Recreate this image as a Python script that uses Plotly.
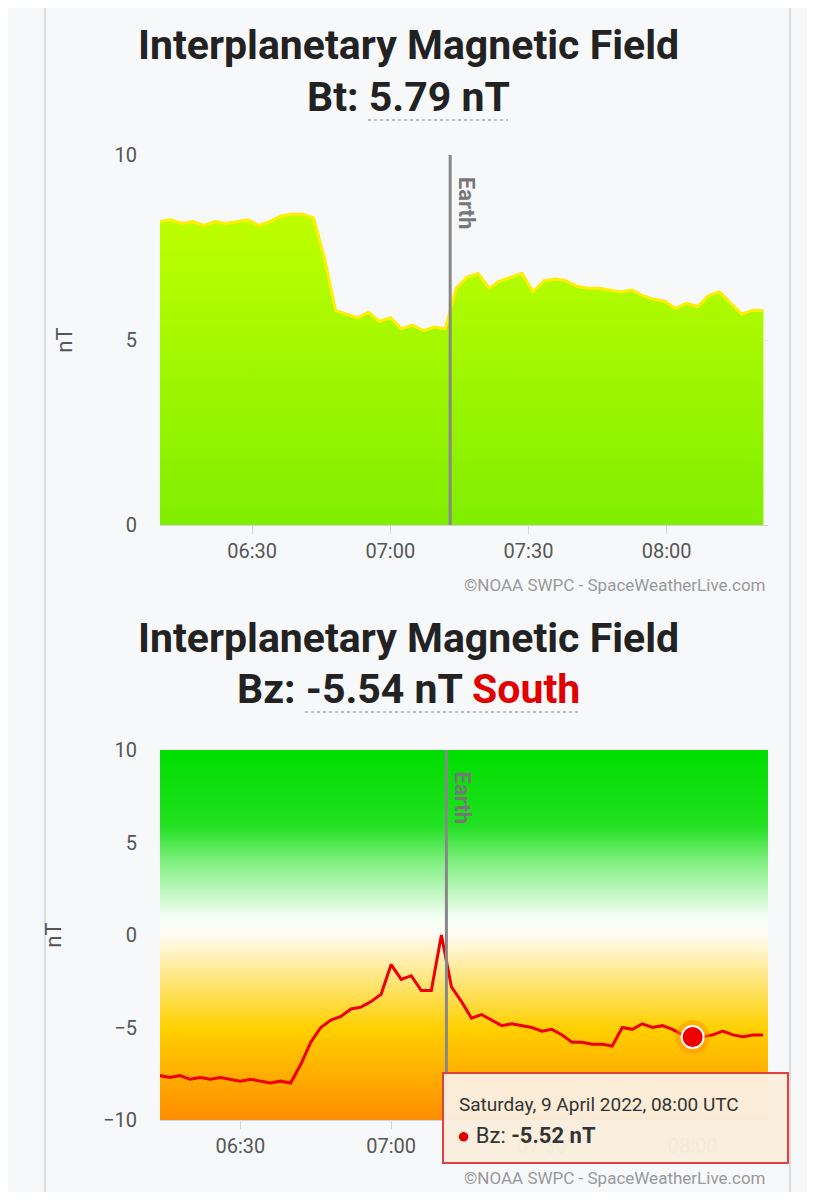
import plotly.graph_objects as go
import pandas as pd

# Bt (top), evenly spaced samples between 06:10 and 08:21
bt_vals = [8.2, 8.25, 8.15, 8.2, 8.1, 8.2, 8.15, 8.2, 8.25, 8.1, 8.2, 8.35, 8.4, 8.4, 8.3,
           7.2, 5.8, 5.7, 5.6, 5.75, 5.5, 5.6, 5.3, 5.4, 5.25, 5.35, 5.3,
           6.4, 6.7, 6.8, 6.4, 6.6, 6.7, 6.8, 6.3, 6.6, 6.65, 6.6, 6.45, 6.4, 6.4,
           6.35, 6.3, 6.35, 6.2, 6.1, 6.05, 5.85, 6.0, 5.9, 6.2, 6.3, 6.0, 5.7, 5.8, 5.8]
bt_x = pd.date_range("2022-04-09 06:10", "2022-04-09 08:21", periods=len(bt_vals))

# Bz (bottom) every 2 minutes from 06:14
bz_vals = [-7.6, -7.7, -7.6, -7.8, -7.7, -7.8, -7.7, -7.8, -7.9, -7.8, -7.9, -8.0, -7.9, -8.0,
           -7.0, -5.8, -5.0, -4.6, -4.4, -4.0, -3.9, -3.6, -3.2, -1.6, -2.4, -2.2, -3.0, -3.0,
           0.0, -2.8, -3.6, -4.5, -4.3, -4.6, -4.9, -4.8, -4.9, -5.0, -5.2, -5.1, -5.4, -5.8,
           -5.8, -5.9, -5.9, -6.0, -5.0, -5.1, -4.8, -5.0, -4.9, -5.1, -5.4, -5.52, -5.5, -5.4,
           -5.2, -5.4, -5.5, -5.4, -5.4]
bz_x = pd.date_range("2022-04-09 06:14", periods=len(bz_vals), freq="2min")

earth_top = "2022-04-09 07:13"
earth_bottom = "2022-04-09 07:11"
tick_vals = ["2022-04-09 06:30", "2022-04-09 07:00", "2022-04-09 07:30", "2022-04-09 08:00"]
tick_text = ["06:30", "07:00", "07:30", "08:00"]

font = "Roboto"
bg = "#f7f8fa"
W, H = 799, 1184  # leaves room for the page's 8px body margin


def px(x):
    return (x - 8) / W


def py(y):
    return 1 - (y - 8) / H


fig = go.Figure()

# background gradient of Bz panel
fig.add_trace(go.Heatmap(
    x=[pd.Timestamp("2022-04-09 06:00"), pd.Timestamp("2022-04-09 08:30")],
    y=[-10, -7.5, -5, -2.5, 0, 2.5, 5, 7.5, 10],
    z=[[-10, -10], [-7.5, -7.5], [-5, -5], [-2.5, -2.5], [0, 0], [2.5, 2.5], [5, 5], [7.5, 7.5], [10, 10]],
    zsmooth="best", showscale=False, hoverinfo="skip",
    colorscale=[[0, "#ff8c00"], [0.25, "#ffd000"], [0.45, "#fff2c0"], [0.5, "#fffcf2"],
                [0.55, "#f4fdf4"], [0.7, "#80f080"], [0.8, "#20e020"], [1, "#00dd00"]],
    zmin=-10, zmax=10, xaxis="x2", yaxis="y2"))

fig.add_trace(go.Scatter(
    x=bt_x, y=bt_vals, mode="lines", line=dict(color="#ffee00", width=3),
    fill="tozeroy",
    fillgradient=dict(type="vertical", colorscale=[[0, "#80ee00"], [1, "#bfff00"]]),
    xaxis="x", yaxis="y"))

fig.add_trace(go.Scatter(
    x=bz_x, y=bz_vals, mode="lines", line=dict(color="#ee0000", width=3),
    xaxis="x2", yaxis="y2"))

# highlighted point
fig.add_trace(go.Scatter(
    x=["2022-04-09 08:00"], y=[-5.52], mode="markers",
    marker=dict(size=34, color="rgba(255,140,0,0.45)"), xaxis="x2", yaxis="y2"))
fig.add_trace(go.Scatter(
    x=["2022-04-09 08:00"], y=[-5.52], mode="markers",
    marker=dict(size=22, color="#ee0000", line=dict(color="white", width=2)),
    xaxis="x2", yaxis="y2"))

axis_common = dict(type="date", tickvals=tick_vals, ticktext=tick_text, showgrid=False,
                   ticks="outside", ticklen=8, tickcolor="#ccd6eb", showline=True,
                   linecolor="#ccd6eb", automargin=False,
                   tickfont=dict(size=20, color="#555", family=font))
yaxis_common = dict(tickvals=[0, 5, 10], showgrid=True, gridcolor="#e6e6e6", zeroline=False,
                    automargin=False,
                    tickfont=dict(size=20, color="#555", family=font), ticklabelstandoff=22,
                    title=dict(text="nT", font=dict(size=22, color="#555", family=font), standoff=35))

fig.update_layout(
    width=W, height=H, margin=dict(l=0, r=0, t=0, b=0, autoexpand=False),
    paper_bgcolor=bg, plot_bgcolor=bg, showlegend=False,
    xaxis=dict(axis_common, domain=[px(160), px(768)],
               range=["2022-04-09 06:10", "2022-04-09 08:22"], anchor="y"),
    yaxis=dict(yaxis_common, domain=[py(525), py(155)], range=[0, 10], anchor="x"),
    xaxis2=dict(axis_common, domain=[px(160), px(768)],
                range=["2022-04-09 06:14", "2022-04-09 08:15"], anchor="y2"),
    yaxis2=dict(yaxis_common, domain=[py(1120), py(750)], range=[-10, 10],
                tickvals=[-10, -5, 0, 5, 10], gridcolor="rgba(255,255,255,0.8)", anchor="x2"),
)

# Earth lines
for xr, yr, et in (("x", "y", earth_top), ("x2", "y2", earth_bottom)):
    lo, hi = (0, 10) if yr == "y" else (-10, 10)
    fig.add_shape(type="line", xref=xr, yref=yr, x0=et, x1=et, y0=lo, y1=hi,
                  line=dict(color="#888", width=3))
    fig.add_annotation(xref=xr, yref=yr, x=et, y=hi, text="<b>Earth</b>", textangle=90,
                       showarrow=False, xanchor="left", yanchor="top", xshift=2, yshift=-20,
                       font=dict(size=22, color="#777", family=font))

# titles
title_font = dict(size=41, color="#222", family=font)
for yy, txt in ((45, "<b>Interplanetary Magnetic Field</b>"),
                (97, "<b>Bt: 5.79 nT</b>"),
                (638, "<b>Interplanetary Magnetic Field</b>"),
                (689, "<b>Bz: -5.54 nT <span style='color:#e00000'>South</span></b>")):
    fig.add_annotation(xref="paper", yref="paper", x=px(408), y=py(yy), showarrow=False,
                       yanchor="middle", text=txt, font=title_font)
# dotted underlines
for x0, x1, yy in ((368, 508, 120), (305, 578, 712)):
    fig.add_shape(type="line", xref="paper", yref="paper", x0=px(x0), x1=px(x1),
                  y0=py(yy), y1=py(yy), line=dict(color="#888", width=1, dash="dot"))

# credits
for yy in (585, 1178):
    fig.add_annotation(xref="paper", yref="paper", x=px(768), y=py(yy), showarrow=False,
                       xanchor="right", yanchor="middle", text="©NOAA SWPC - SpaceWeatherLive.com",
                       font=dict(size=17, color="#999", family=font))

# page borders
for xx in (45, 790):
    fig.add_shape(type="line", xref="paper", yref="paper", x0=px(xx), x1=px(xx), y0=0, y1=1,
                  line=dict(color="#dddddd", width=2))

# tooltip
fig.add_shape(type="rect", xref="paper", yref="paper", x0=px(443), x1=px(788),
              y0=py(1163), y1=py(1073),
              fillcolor="rgba(250,238,222,0.97)", line=dict(color="#e04040", width=2))
fig.add_annotation(xref="paper", yref="paper", x=px(457), y=py(1104), showarrow=False,
                   xanchor="left", yanchor="middle", text="Saturday, 9 April 2022, 08:00 UTC",
                   font=dict(size=19, color="#333", family=font))
fig.add_annotation(xref="paper", yref="paper", x=px(455), y=py(1135), showarrow=False,
                   xanchor="left", yanchor="middle",
                   text="<span style='color:#e00000'>●</span> Bz: <b>-5.52 nT</b>",
                   font=dict(size=22, color="#333", family=font))

fig.write_html("out.html")
